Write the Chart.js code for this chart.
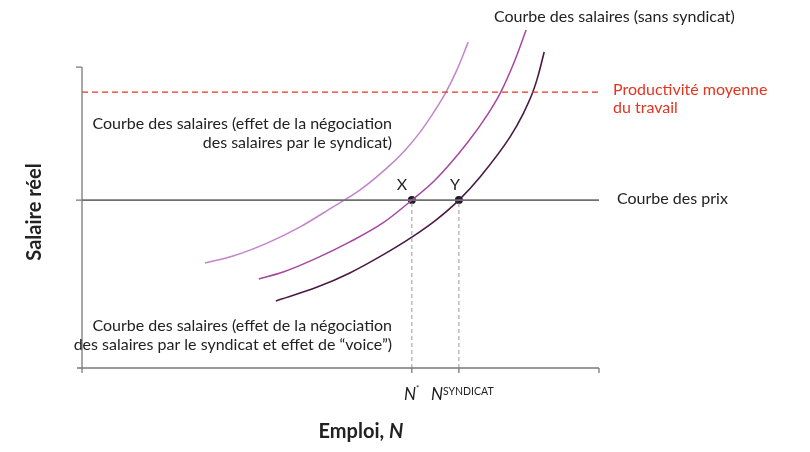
<!DOCTYPE html>
<html><head><meta charset="utf-8">
<script src="https://cdn.jsdelivr.net/npm/chart.js@4.4.1/dist/chart.umd.min.js"></script>
<style>html,body{margin:0;padding:0;background:#fff}#wrap{width:810px;height:452px}</style>
</head><body><div id="wrap"><canvas id="c" width="810" height="452"></canvas></div>
<script>
// Data (x: employment, y: real wage; arbitrary units)
const curveNegX = [23.8, 29.2, 35.8, 42.2, 48.5, 53.8, 59.0, 62.5, 65.4, 67.7, 70.4, 72.5, 74.7];
const curveNegY = [34.9, 37.2, 41.5, 46.9, 53.5, 59.2, 66.5, 72.4, 78.4, 84.1, 91.7, 99.0, 108.3];
const curveSansX = [34.2, 38.9, 45.5, 51.8, 58.2, 63.8, 68.3, 74.5, 78.5, 81.0, 83.6, 85.9];
const curveSansY = [29.6, 31.9, 36.6, 41.9, 48.2, 55.8, 62.5, 74.8, 84.4, 91.7, 101.7, 112.3];
const curveVoiceX = [37.5, 45.5, 51.8, 58.2, 63.8, 68.7, 72.9, 77.0, 82.8, 85.3, 87.2, 88.2, 89.4];
const curveVoiceY = [22.3, 26.9, 31.6, 37.6, 43.5, 49.5, 55.8, 63.5, 76.8, 84.4, 91.7, 97.0, 105.0];
const priceLevel = 55.8;
const productivity = 91.7;
const nStar = 63.8;
const nUnion = 72.9;
const xRange = [0, 100];
const yAxisTop = 100;
const yMax = 113;

const pts = (xs, ys) => xs.map((x, i) => ({x, y: ys[i]}));
const FONT = "Lato, 'Open Sans', sans-serif";

const overlay = {
  id: 'overlay',
  afterDatasetsDraw(chart) {
    const {ctx, scales: {x, y}} = chart;
    const x0 = x.getPixelForValue(0), y0 = y.getPixelForValue(0);
    const xe = x.getPixelForValue(xRange[1]), yt = y.getPixelForValue(yAxisTop);
    const yp = y.getPixelForValue(priceLevel);
    ctx.save();
    ctx.strokeStyle = '#7a7a7a'; ctx.lineWidth = 1.3;
    ctx.beginPath();
    ctx.moveTo(x0, y0 + 5); ctx.lineTo(x0, yt);
    ctx.moveTo(x0 - 6, yt); ctx.lineTo(x0, yt);
    ctx.moveTo(x0 - 6, yp); ctx.lineTo(x0, yp);
    ctx.moveTo(x0 - 5, y0); ctx.lineTo(xe, y0);
    [nStar, nUnion, xRange[1]].forEach(v => {
      const px = x.getPixelForValue(v);
      ctx.moveTo(px, y0); ctx.lineTo(px, y0 + 5);
    });
    ctx.stroke();

    ctx.fillStyle = '#222';
    ctx.textBaseline = 'alphabetic';
    ctx.font = '16px ' + FONT;
    ctx.textAlign = 'left';
    ctx.fillText('Courbe des salaires (sans syndicat)', 494, 22);
    ctx.fillText('Courbe des prix', 617, 204);
    ctx.textAlign = 'right';
    ctx.fillText('Courbe des salaires (effet de la négociation', 392, 129);
    ctx.fillText('des salaires par le syndicat)', 392, 148);
    ctx.fillText('Courbe des salaires (effet de la négociation', 392, 331);
    ctx.fillText('des salaires par le syndicat et effet de \u201Cvoice\u201D)', 392, 350);
    ctx.textAlign = 'center';
    ctx.fillText('X', x.getPixelForValue(nStar) - 10, 190);
    ctx.fillText('Y', x.getPixelForValue(nUnion) - 4, 190);

    ctx.fillStyle = '#e5341f';
    ctx.textAlign = 'left';
    ctx.fillText('Productivité moyenne', 613, 95);
    ctx.fillText('du travail', 613, 113);

    ctx.fillStyle = '#222';
    ctx.font = 'italic 17px ' + FONT;
    ctx.textAlign = 'left';
    ctx.fillText('N', 404, 400);
    ctx.fillText('N', 431, 400);
    ctx.font = '8px ' + FONT;
    ctx.fillText('*', 416, 391);
    ctx.font = '10.5px ' + FONT;
    ctx.fillText('SYNDICAT', 443, 395);

    ctx.font = 'bold 20px ' + FONT;
    const w1 = ctx.measureText('Emploi, ').width;
    ctx.font = 'bold italic 20px ' + FONT;
    const w2 = ctx.measureText('N').width;
    const cx = 361, sx = cx - (w1 + w2) / 2;
    ctx.textAlign = 'left';
    ctx.font = 'bold 20px ' + FONT;
    ctx.fillText('Emploi, ', sx, 438);
    ctx.font = 'bold italic 20px ' + FONT;
    ctx.fillText('N', sx + w1, 438);

    ctx.translate(41, 212);
    ctx.rotate(-Math.PI / 2);
    ctx.font = 'bold 20px ' + FONT;
    ctx.textAlign = 'center';
    ctx.fillText('Salaire réel', 0, 0);
    ctx.restore();
  }
};

new Chart(document.getElementById('c'), {
  type: 'scatter',
  data: {
    datasets: [
      {data: [{x: 0, y: productivity}, {x: xRange[1], y: productivity}], showLine: true, borderColor: '#e5341f', borderWidth: 1.3, borderDash: [6, 4], pointRadius: 0},
      {data: [{x: 0, y: priceLevel}, {x: xRange[1], y: priceLevel}], showLine: true, borderColor: '#6e6e6e', borderWidth: 1.6, pointRadius: 0},
      {data: [{x: nStar, y: 0}, {x: nStar, y: priceLevel}], showLine: true, borderColor: '#9a9a9a', borderWidth: 1, borderDash: [4, 3], pointRadius: 0},
      {data: [{x: nUnion, y: 0}, {x: nUnion, y: priceLevel}], showLine: true, borderColor: '#9a9a9a', borderWidth: 1, borderDash: [4, 3], pointRadius: 0},
      {data: pts(curveNegX, curveNegY), showLine: true, borderColor: '#c384cc', borderWidth: 1.5, pointRadius: 0, cubicInterpolationMode: 'monotone'},
      {data: pts(curveSansX, curveSansY), showLine: true, borderColor: '#a6479f', borderWidth: 1.5, pointRadius: 0, cubicInterpolationMode: 'monotone'},
      {data: pts(curveVoiceX, curveVoiceY), showLine: true, borderColor: '#4a1a45', borderWidth: 1.6, pointRadius: 0, cubicInterpolationMode: 'monotone'},
      {data: [{x: nStar, y: priceLevel}, {x: nUnion, y: priceLevel}], showLine: false, pointRadius: 4, pointBackgroundColor: '#1c1c24', pointBorderWidth: 0}
    ]
  },
  options: {
    responsive: false, animation: false,
    layout: {padding: {left: 82, right: 211, top: 28, bottom: 84}},
    plugins: {legend: {display: false}, tooltip: {enabled: false}},
    scales: {
      x: {type: 'linear', min: xRange[0], max: xRange[1], display: false},
      y: {type: 'linear', min: 0, max: yMax, display: false}
    },
    elements: {line: {borderCapStyle: 'butt'}}
  },
  plugins: [overlay]
});
</script></body></html>
